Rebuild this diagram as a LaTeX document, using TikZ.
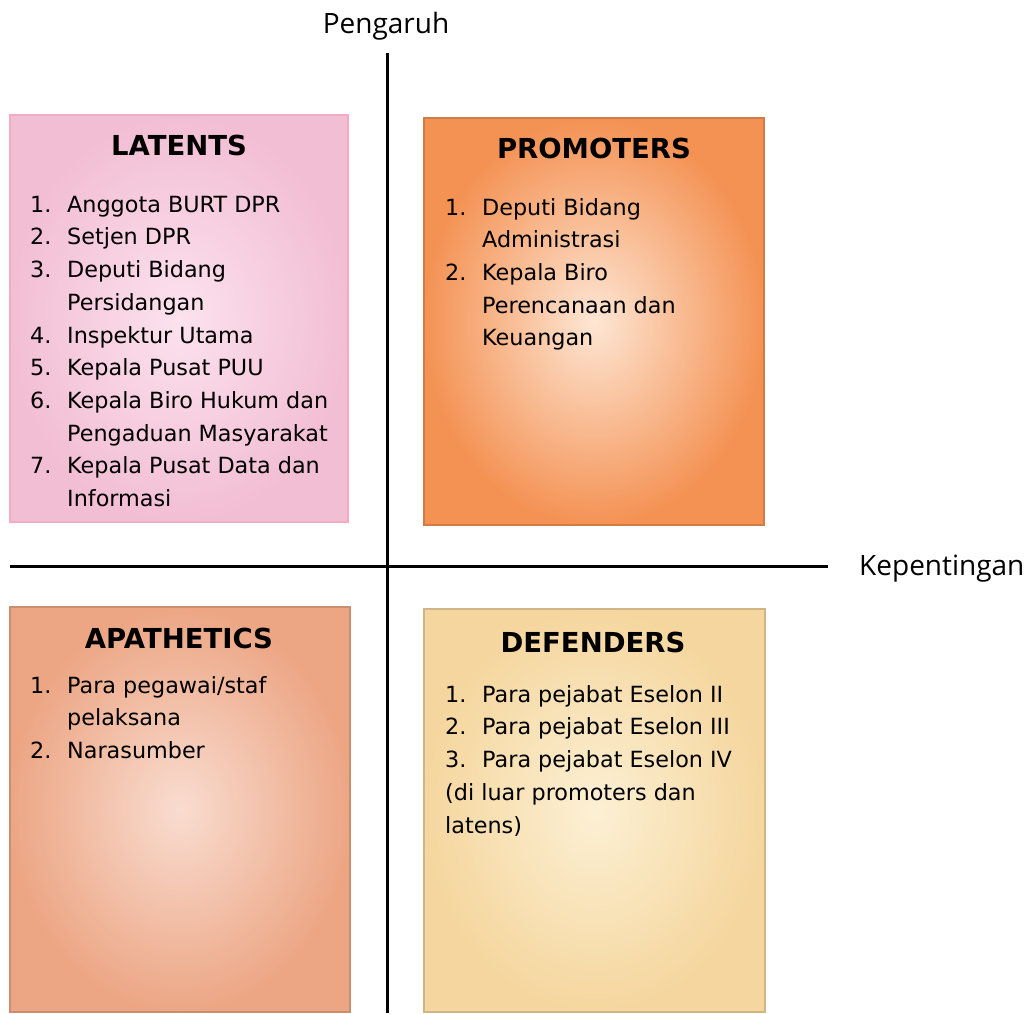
\documentclass[tikz,border=0pt]{standalone}
\usepackage{fontspec}
\setmainfont{DejaVu Sans}
\newfontfamily\axisfont{Open Sans}
\usepackage{xcolor}
\usetikzlibrary{positioning}
\definecolor{pinkdark}{RGB}{242,190,212}
\definecolor{pinklight}{RGB}{252,226,238}
\definecolor{orangedark}{RGB}{244,146,84}
\definecolor{orangelight}{RGB}{253,230,212}
\definecolor{salmondark}{RGB}{236,166,132}
\definecolor{salmonlight}{RGB}{249,220,208}
\definecolor{yellowdark}{RGB}{245,214,158}
\definecolor{yellowlight}{RGB}{252,240,212}
\newcommand{\nomor}[1]{\makebox[37pt][l]{#1}}

\begin{document}
\begin{tikzpicture}[x=1pt, y=-1pt,
    quadbox/.style = {rectangle, inner sep=0pt, line width=1.2pt},
    head/.style = {anchor=base, inner sep=0pt, font=\fontsize{27.5}{32}\selectfont\bfseries},
    items/.style = {anchor=north west, inner sep=0pt, align=left, font=\fontsize{22.3}{32.7}\selectfont},
    axis/.style = {line width=3pt},
    axislabel/.style = {inner sep=0pt, font=\axisfont\fontsize{28}{32}\selectfont}]
    \useasboundingbox (0,0) rectangle (1031,1013);

    % kotak kuadran
    \node[quadbox, minimum width=338pt, minimum height=407pt, draw=pinkdark!90!red,
          inner color=pinklight, outer color=pinkdark] (latents) at (179,318.5) {};
    \node[quadbox, minimum width=340pt, minimum height=407pt, draw=orangedark!85!black,
          inner color=orangelight, outer color=orangedark] (promoters) at (594,321.5) {};
    \node[quadbox, minimum width=340pt, minimum height=405pt, draw=salmondark!85!black,
          inner color=salmonlight, outer color=salmondark] (apathetics) at (180,809.5) {};
    \node[quadbox, minimum width=341pt, minimum height=403pt, draw=yellowdark!85!black,
          inner color=yellowlight, outer color=yellowdark] (defenders) at (594.5,810.5) {};

    % judul
    \node[head] (h1) at (179,155) {LATENTS};
    \node[head] (h2) at (594,158) {PROMOTERS};
    \node[head] (h3) at (179,648) {APATHETICS};
    \node[head] (h4) at (593,652) {DEFENDERS};

    % isi
    \node[items] (l1) at (30,189.1) {\strut\nomor{1.}Anggota BURT DPR\\
        \nomor{2.}Setjen DPR\\
        \nomor{3.}Deputi Bidang\\
        \nomor{}Persidangan\\
        \nomor{4.}Inspektur Utama\\
        \nomor{5.}Kepala Pusat PUU\\
        \nomor{6.}Kepala Biro Hukum dan\\
        \nomor{}Pengaduan Masyarakat\\
        \nomor{7.}Kepala Pusat Data dan\\
        \nomor{}Informasi};
    \node[items] (l2) at (445,192.1) {\strut\nomor{1.}Deputi Bidang\\
        \nomor{}Administrasi\\
        \nomor{2.}Kepala Biro\\
        \nomor{}Perencanaan dan\\
        \nomor{}Keuangan};
    \node[items] (l3) at (30,670.1) {\strut\nomor{1.}Para pegawai/staf\\
        \nomor{}pelaksana\\
        \nomor{2.}Narasumber};
    \node[items] (l4) at (445,679.1) {\strut\nomor{1.}Para pejabat Eselon II\\
        \nomor{2.}Para pejabat Eselon III\\
        \nomor{3.}Para pejabat Eselon IV\\
        (di luar promoters dan\\
        latens)};

    % sumbu
    \coordinate (atas) at (387,53);
    \coordinate (bawah) at (387,1013);
    \coordinate (kiri) at (10,566);
    \coordinate (kanan) at (828,566);
    \draw[axis] (atas) -- (bawah);
    \draw[axis] (kiri) -- (kanan);
    \node[axislabel, anchor=base] (pengaruh) at (386,33) {Pengaruh};
    \node[axislabel, anchor=base west] (kepentingan) at (859,575) {Kepentingan};
\end{tikzpicture}
\end{document}
